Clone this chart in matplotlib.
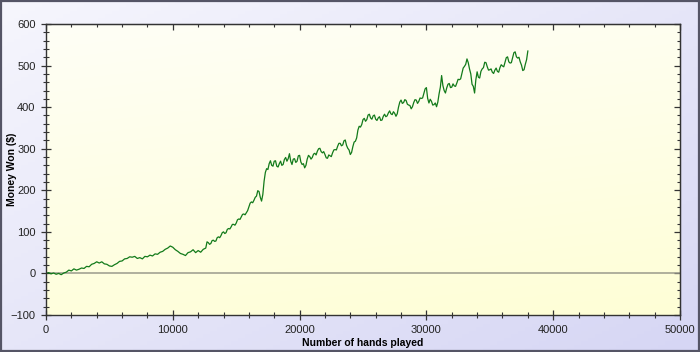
import numpy as np
import matplotlib
matplotlib.use("Agg")
import matplotlib.pyplot as plt
from matplotlib.ticker import MultipleLocator
from matplotlib.patches import Rectangle

# hands played (x) and money won in $ (y)
hands_early = [0, 200, 400, 600, 800, 1000, 1200, 1400, 1600, 1800, 2000, 2200, 2400, 2600,
               2800, 3000, 3200, 3400, 3600, 3800, 4000, 4200, 4400, 4600, 4800, 5000, 5200,
               5400, 5600, 5800, 6000, 6200, 6400, 6600, 6800, 7000, 7200, 7400, 7600, 7800,
               8000, 8200, 8400, 8600, 8800, 9000, 9200, 9400, 9600, 9800, 10000, 10200,
               10400, 10600, 10800, 11000, 11200, 11400, 11600, 11800, 12000, 12200, 12400]
money_early = [0, 2, -1, 1, -2, 0, -3, 1, 3, 8, 6, 11, 8, 10,
               13, 12, 17, 16, 22, 24, 28, 25, 28, 23, 22, 18, 17,
               21, 24, 29, 30, 35, 36, 40, 39, 41, 36, 38, 35, 41,
               40, 44, 42, 47, 46, 51, 53, 58, 61, 66, 63, 57,
               53, 48, 46, 43, 50, 52, 57, 50, 55, 51, 58]

# from 12600 hands on, one reading every 100 hands
hands_late = list(range(12600, 38001, 100))
money_late = [
    61, 76, 74, 70, 72, 79, 80, 77, 78, 86,
    88, 86, 91, 98, 100, 96, 98, 106, 108, 107,
    112, 118, 118, 116, 121, 129, 131, 130, 136, 142,
    143, 141, 146, 151, 160, 169, 172, 170, 176, 183,
    186, 199, 197, 183, 174, 190, 222, 243, 252, 250,
    264, 271, 260, 258, 270, 271, 258, 256, 264, 270,
    260, 262, 274, 279, 270, 276, 288, 270, 262, 275,
    276, 267, 270, 283, 284, 268, 262, 264, 254, 260,
    275, 284, 281, 275, 279, 287, 289, 285, 294, 300,
    301, 293, 290, 293, 286, 278, 277, 285, 283, 281,
    290, 297, 298, 297, 306, 313, 313, 307, 309, 319,
    321, 308, 301, 297, 286, 291, 305, 316, 318, 326,
    345, 354, 352, 358, 370, 373, 366, 370, 381, 383,
    374, 371, 379, 381, 371, 368, 374, 377, 368, 369,
    378, 383, 377, 379, 386, 391, 384, 382, 389, 385,
    378, 384, 400, 412, 417, 409, 411, 418, 416, 407,
    405, 404, 396, 401, 411, 418, 417, 409, 414, 422,
    421, 422, 433, 444, 447, 421, 410, 419, 414, 405,
    406, 410, 401, 412, 432, 448, 476, 452, 440, 434,
    446, 455, 457, 447, 448, 456, 451, 450, 458, 467,
    466, 468, 481, 494, 498, 503, 516, 507, 492, 480,
    455, 450, 434, 466, 485, 472, 470, 486, 492, 495,
    508, 507, 497, 489, 490, 492, 484, 481, 489, 494,
    486, 484, 495, 502, 499, 497, 508, 519, 521, 509,
    506, 507, 519, 531, 533, 521, 518, 520, 509, 501,
    488, 490, 503, 514, 535]

hands = hands_early + hands_late
money = money_early + money_late

fig = plt.figure(figsize=(7.0, 3.52), dpi=100)

# lavender gradient behind everything
bg = fig.add_axes([0, 0, 1, 1], zorder=-10)
gy, gx = np.mgrid[0:1:100j, 0:1:100j]
shade = (gx + gy) / 2.0
c0 = np.array([246, 246, 253]) / 255.0
c1 = np.array([214, 214, 244]) / 255.0
img = c0[None, None, :] * (1 - shade[..., None]) + c1[None, None, :] * shade[..., None]
bg.imshow(img, extent=[0, 1, 0, 1], aspect="auto", origin="upper")
bg.add_patch(Rectangle((0.001, 0.002), 0.997, 0.995, fill=False, ec="#555566", lw=1.6,
                       transform=bg.transAxes))
bg.set_axis_off()

ax = fig.add_axes([46 / 700, 37 / 352, 634 / 700, 291 / 352])
ax.set_facecolor("none")

# pale yellow gradient inside the plot area
py, px = np.mgrid[0:1:100j, 0:1:100j]
t = np.clip(py * 0.8 + px * 0.2, 0, 1)
top = np.array([254, 254, 246]) / 255.0
bot = np.array([255, 255, 214]) / 255.0
pimg = top[None, None, :] * (1 - t[..., None]) + bot[None, None, :] * t[..., None]
ax.imshow(pimg, extent=[0, 50000, -100, 600], aspect="auto", origin="upper", zorder=0)

ax.axhline(0, color="#9a9a8c", lw=1.1, zorder=1)
ax.plot(hands, money, color="#127a1a", lw=0.9, zorder=2)

ax.set_xlim(0, 50000)
ax.set_ylim(-100, 600)
ax.xaxis.set_major_locator(MultipleLocator(10000))
ax.xaxis.set_minor_locator(MultipleLocator(2000))
ax.yaxis.set_major_locator(MultipleLocator(100))
ax.yaxis.set_minor_locator(MultipleLocator(20))

for s in ax.spines.values():
    s.set_color("#333333")
    s.set_linewidth(1.0)

ax.tick_params(which="major", direction="inout", length=7, width=0.9, color="#333333",
               labelsize=8, labelcolor="#222222", pad=4)
ax.tick_params(which="minor", direction="inout", length=4, width=0.8, color="#333333")
for tl in ax.get_xticklabels() + ax.get_yticklabels():
    tl.set_fontfamily("Liberation Sans")

# inward ticks on top and right edges
secx = ax.secondary_xaxis("top")
secx.xaxis.set_major_locator(MultipleLocator(10000))
secx.xaxis.set_minor_locator(MultipleLocator(2000))
secx.tick_params(which="major", direction="in", length=4, width=0.9, color="#333333",
                 labeltop=False)
secx.tick_params(which="minor", direction="in", length=2.5, width=0.8, color="#333333")
secx.spines["top"].set_color("#333333")
secy = ax.secondary_yaxis("right")
secy.yaxis.set_major_locator(MultipleLocator(100))
secy.yaxis.set_minor_locator(MultipleLocator(20))
secy.tick_params(which="major", direction="in", length=4, width=0.9, color="#333333",
                 labelright=False)
secy.tick_params(which="minor", direction="in", length=2.5, width=0.8, color="#333333")
secy.spines["right"].set_color("#333333")

ax.set_xlabel("Number of hands played", fontsize=7.5, fontweight="bold",
              family="Liberation Sans", labelpad=2)
fig.text(12 / 700, (352 - 169) / 352, "Money Won ($)", rotation=90, fontsize=7.5,
         fontweight="bold", family="Liberation Sans", ha="center", va="center")

fig.savefig("out.png", dpi=100)
